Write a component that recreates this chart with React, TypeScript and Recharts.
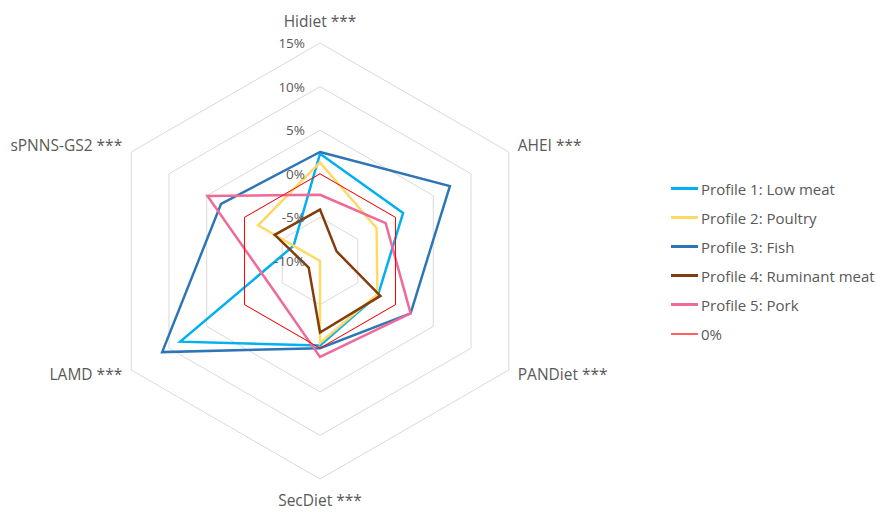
import React from 'react';
import { RadarChart, Radar, PolarGrid, PolarAngleAxis, PolarRadiusAxis, Legend } from 'recharts';

const CATEGORIES = ['Hidiet ***', 'AHEI ***', 'PANDiet ***', 'SecDiet ***', 'LAMD ***', 'sPNNS-GS2 ***'];

// values in %
const LOW_MEAT = [2.3, 1.0, -2.3, -0.3, 8.5, -6.5];
const POULTRY = [1.3, -2.5, -2.4, -0.6, -10, -1.8];
const FISH = [2.5, 7.2, 2.0, 0.0, 10.9, 3.1];
const RUMINANT = [-4.1, -7.8, -2.0, -1.8, -8.5, -4.0];
const PORK = [-2.4, -1.3, 2.0, 1.0, -3.7, 4.9];
const ZERO = [0, 0, 0, 0, 0, 0];

const RADIUS_DOMAIN = [-10, 15];

const SERIES = [
  { key: 'p1', name: 'Profile 1: Low meat', values: LOW_MEAT, color: '#00B0F0', width: 2.5 },
  { key: 'p2', name: 'Profile 2: Poultry', values: POULTRY, color: '#FFD966', width: 2.5 },
  { key: 'p3', name: 'Profile 3: Fish', values: FISH, color: '#2E75B6', width: 2.5 },
  { key: 'p4', name: 'Profile 4: Ruminant meat', values: RUMINANT, color: '#843C0C', width: 2.5 },
  { key: 'p5', name: 'Profile 5: Pork', values: PORK, color: '#F06A99', width: 2.5 },
  { key: 'zero', name: '0%', values: ZERO, color: '#FF0000', width: 1 },
];

const data = CATEGORIES.map((cat, i) => {
  const row: Record<string, string | number> = { cat };
  SERIES.forEach(s => { row[s.key] = s.values[i]; });
  return row;
});

const CX = 320;
const CY = 261;
const R = 218;
const FONT = '"Open Sans", sans-serif';
const GREY = '#595959';

function AngleTick(props: any) {
  const { payload } = props;
  const ang = (payload.coordinate * Math.PI) / 180;
  const cos = Math.cos(ang);
  const sin = Math.sin(ang);
  const vx = CX + R * cos;
  const vy = CY - R * sin;
  let x = vx;
  let y = vy;
  let anchor = 'middle';
  if (Math.abs(cos) < 0.01) {
    y = sin > 0 ? vy - 22 : vy + 21;
  } else {
    anchor = cos > 0 ? 'start' : 'end';
    x = vx + (cos > 0 ? 9 : -9);
    y = vy + (sin > 0 ? -7 : 4);
  }
  return (
    <text x={x} y={y} textAnchor={anchor} dominantBaseline="central" fill={GREY} fontSize={15.5} fontFamily={FONT}>
      {payload.value}
    </text>
  );
}

function RadiusTick(props: any) {
  const { x, y, payload } = props;
  return (
    <text x={x - 15} y={y} textAnchor="end" dominantBaseline="central" fill={GREY} fontSize={13.5} fontFamily={FONT}>
      {`${payload.value}%`}
    </text>
  );
}

function LegendContent() {
  return (
    <div style={{ fontFamily: FONT, fontSize: 15, color: GREY }}>
      {SERIES.map(s => (
        <div key={s.key} style={{ display: 'flex', alignItems: 'center', height: 29, whiteSpace: 'nowrap' }}>
          <div style={{ width: 27, height: s.width === 1 ? 2 : 3, background: s.width === 1 ? '#FF6060' : s.color, marginRight: 3 }} />
          <span>{s.name}</span>
        </div>
      ))}
    </div>
  );
}

export default function App() {
  return (
    <div style={{ position: 'absolute', left: 0, top: 0, width: 881, height: 512, background: '#fff' }}>
      <RadarChart width={881} height={512} data={data} cx={CX} cy={CY} outerRadius={R} margin={{ top: 0, right: 0, bottom: 0, left: 0 }}>
        <PolarGrid gridType="polygon" radialLines={false} stroke="#D9D9D9" />
        <PolarAngleAxis dataKey="cat" tick={<AngleTick />} tickLine={false} axisLine={false} />
        <PolarRadiusAxis angle={90} domain={RADIUS_DOMAIN} tickCount={6} tick={<RadiusTick />} axisLine={false} tickLine={false} />
        {SERIES.map(s => (
          <Radar
            key={s.key}
            name={s.name}
            dataKey={s.key}
            stroke={s.color}
            strokeWidth={s.width}
            fill="none"
            fillOpacity={0}
            dot={false}
            isAnimationActive={false}
          />
        ))}
        <Legend content={<LegendContent />} layout="vertical" wrapperStyle={{ left: 671, top: 174, width: 210 }} />
      </RadarChart>
    </div>
  );
}
